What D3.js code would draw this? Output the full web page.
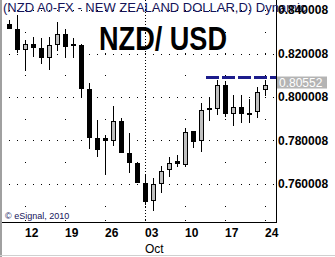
<!DOCTYPE html>
<html>
<head>
<meta charset="utf-8">
<script src="https://cdn.jsdelivr.net/npm/d3@7"></script>
<style>
  body { margin: 0; background: #fff; }
  svg { display: block; }
</style>
</head>
<body>
<div id="container"></div>
<script>
// daily bars, Sep 9 - Oct 25 2010 (weekdays)
const dates = ["2010-09-09","2010-09-10",
  "2010-09-13","2010-09-14","2010-09-15","2010-09-16","2010-09-17",
  "2010-09-20","2010-09-21","2010-09-22","2010-09-23","2010-09-24",
  "2010-09-27","2010-09-28","2010-09-29","2010-09-30","2010-10-01",
  "2010-10-04","2010-10-05","2010-10-06","2010-10-07","2010-10-08",
  "2010-10-11","2010-10-12","2010-10-13","2010-10-14","2010-10-15",
  "2010-10-18","2010-10-19","2010-10-20","2010-10-21","2010-10-22",
  "2010-10-25"];
const opens  = [0.83356,0.83113,0.82221,0.82451,0.82239,0.81825,0.82423,0.82910,0.82423,0.82377,
  0.80354,0.78129,0.78129,0.78023,0.78897,0.77412,0.76952,0.76060,0.75264,0.76060,
  0.76676,0.77044,0.76906,0.78437,0.78023,0.79480,0.79480,0.80538,0.79251,0.79526,
  0.79278,0.79356,0.80354];
const highs  = [0.83540,0.83770,0.82621,0.82745,0.82699,0.82772,0.83448,0.83126,0.82699,0.82423,
  0.80630,0.78943,0.78253,0.79586,0.79021,0.78331,0.77025,0.76414,0.76262,0.76841,
  0.77255,0.77333,0.78589,0.78437,0.79738,0.80014,0.80782,0.80749,0.80092,0.80092,
  0.79908,0.80474,0.80782];
const lows   = [0.83126,0.82009,0.81209,0.81853,0.81503,0.81241,0.82129,0.81779,0.81779,0.79968,
  0.77595,0.77255,0.76414,0.77747,0.77450,0.76520,0.76060,0.75080,0.74759,0.75600,
  0.76336,0.76795,0.76795,0.77641,0.77485,0.78910,0.79172,0.79094,0.78667,0.78818,
  0.78791,0.79021,0.80046];
const closes = [0.83159,0.82221,0.82451,0.82285,0.81825,0.82377,0.82910,0.82359,0.82420,0.80400,
  0.78147,0.77595,0.78023,0.78897,0.77457,0.76998,0.76078,0.75232,0.75986,0.76612,
  0.76979,0.76979,0.78405,0.77977,0.79402,0.79478,0.80552,0.79251,0.79526,0.79251,
  0.79275,0.80244,0.80560];

const priceTicks = [0.760008, 0.780008, 0.800008, 0.820008, 0.840008];
// week labels (Sunday session start) placed on the first bar of each week
const weekTicks = [["2010-09-13","12"],["2010-09-20","19"],["2010-09-27","26"],["2010-10-04","03"],
  ["2010-10-11","10"],["2010-10-18","17"],["2010-10-25","24"]];
const monthTicks = [["2010-10-04","Oct"]];
const lastPrice = "0.80552";

const W = 335, H = 257;
const plotRight = 276, plotBottom = 222;

const bars = dates.map((d, i) => ({date: d, o: opens[i], h: highs[i], l: lows[i], c: closes[i]}));

const svg = d3.select("#container").append("svg")
  .attr("width", W).attr("height", H)
  .style("font-family", "'Liberation Sans', Arial, sans-serif");

// one extra empty slot at the right so the grid runs past the last bar
const slots = dates.concat(["next"]);
const x = d3.scaleBand().domain(slots).range([5.5, 5.5 + slots.length * 8]).padding(0);
const cx = d => x(d) + x.bandwidth() / 2;
const y = d3.scaleLinear().domain([0.760008, 0.820008]).range([184, 53.5]);

// frame
svg.append("rect").attr("x", 0).attr("y", 0).attr("width", 2).attr("height", H).attr("fill", "#a0a0a0");
svg.append("line").attr("x1", 0).attr("x2", W).attr("y1", 255.5).attr("y2", 255.5).attr("stroke", "#d0d0d0");

// horizontal dotted grid: one dot per bar slot
const grid = svg.append("g").attr("fill", "#000");
priceTicks.forEach(p => {
  grid.selectAll(null).data(slots).enter().append("rect")
    .attr("x", d => Math.floor(cx(d))).attr("y", Math.round(y(p)))
    .attr("width", 1).attr("height", 1);
});
// vertical dotted grid at week ticks, a dot every 0.01
const halfLevels = d3.range(0.750008, 0.8451, 0.01);
weekTicks.forEach(([d]) => {
  grid.selectAll(null).data(halfLevels).enter().append("rect")
    .attr("x", Math.floor(cx(d))).attr("y", v => Math.round(y(v)))
    .attr("width", 1).attr("height", 1);
  grid.append("rect").attr("x", Math.floor(cx(d))).attr("y", plotBottom - 2).attr("width", 1).attr("height", 1);
});
// month separator
monthTicks.forEach(([d]) => {
  svg.append("line").attr("x1", cx(d)).attr("x2", cx(d)).attr("y1", 0).attr("y2", plotBottom)
    .attr("stroke", "#000").attr("stroke-dasharray", "1,2");
});

// last price marker
const defs = svg.append("defs");
defs.append("filter").attr("id", "blur").attr("x", "-20%").attr("y", "-200%").attr("width", "140%").attr("height", "500%")
  .append("feGaussianBlur").attr("stdDeviation", 2);
const markY = y(+lastPrice);
svg.append("line").attr("x1", 210).attr("x2", plotRight).attr("y1", markY - 1).attr("y2", markY - 1)
  .attr("stroke", "#9a9a9a").attr("stroke-width", 4).attr("filter", "url(#blur)");
svg.append("line").attr("x1", 206).attr("x2", plotRight).attr("y1", markY - 7.5).attr("y2", markY - 7.5)
  .attr("stroke", "#1c1c8c").attr("stroke-width", 3).attr("stroke-dasharray", "13,3");

// candles
const candles = svg.selectAll(".bar").data(bars).enter().append("g").attr("class", "bar");
candles.append("line")
  .attr("x1", d => cx(d.date)).attr("x2", d => cx(d.date))
  .attr("y1", d => Math.round(y(d.h))).attr("y2", d => Math.round(y(d.l)))
  .attr("stroke", "#000");
candles.append("rect")
  .attr("x", d => cx(d.date) - 2)
  .attr("y", d => Math.round(y(Math.max(d.o, d.c))) + 0.5)
  .attr("width", 4)
  .attr("height", d => Math.max(1, Math.round(y(Math.min(d.o, d.c))) - Math.round(y(Math.max(d.o, d.c)))))
  .attr("fill", d => d.c >= d.o ? "#c0c0c0" : "#000")
  .attr("stroke", "#000");

// axes lines
svg.append("line").attr("x1", plotRight + 0.5).attr("x2", plotRight + 0.5).attr("y1", 0).attr("y2", plotBottom + 1)
  .attr("stroke", "#000");
svg.append("line").attr("x1", 2).attr("x2", plotRight + 1).attr("y1", plotBottom + 0.5).attr("y2", plotBottom + 0.5)
  .attr("stroke", "#000");

// title
svg.append("text").attr("x", 3).attr("y", 12)
  .attr("font-size", 13).attr("fill", "#14145a")
  .text("(NZD A0-FX - NEW ZEALAND DOLLAR,D) Dynamic");
svg.append("text").attr("x", 99).attr("y", 50)
  .attr("font-size", 34).attr("font-weight", "bold").attr("fill", "#000")
  .attr("textLength", 128).attr("lengthAdjust", "spacingAndGlyphs")
  .text("NZD/ USD");
svg.append("text").attr("x", 5).attr("y", 219)
  .attr("font-size", 9).attr("fill", "#14145a")
  .text("\u00a9 eSignal, 2010");

// right price axis
const yAxis = d3.axisRight(y).tickValues(priceTicks).tickFormat(d3.format(".6f")).tickSize(0).tickPadding(0);
const yg = svg.append("g").attr("transform", `translate(${plotRight + 2},0)`).call(yAxis);
yg.select(".domain").remove();
yg.selectAll("text").attr("font-size", 12).attr("font-weight", "bold").attr("fill", "#000")
  .attr("font-family", "'Liberation Sans', Arial, sans-serif");

// last price label
svg.append("rect").attr("x", plotRight + 1).attr("y", markY - 8.5).attr("width", 50).attr("height", 12)
  .attr("fill", "#b4b4b4");
svg.append("text").attr("x", plotRight + 3).attr("y", markY + 2)
  .attr("font-size", 12).attr("fill", "#fff").text(lastPrice);

// bottom date axis
const xg = svg.append("g");
xg.selectAll(null).data(weekTicks).enter().append("text")
  .attr("x", d => cx(d[0]) - 0.5).attr("y", 237)
  .attr("font-size", 12).attr("font-weight", "bold").attr("fill", "#000")
  .text(d => d[1]);
xg.selectAll(null).data(monthTicks).enter().append("text")
  .attr("x", d => cx(d[0]) - 0.5).attr("y", 253)
  .attr("font-size", 12).attr("fill", "#000")
  .text(d => d[1]);
</script>
</body>
</html>
